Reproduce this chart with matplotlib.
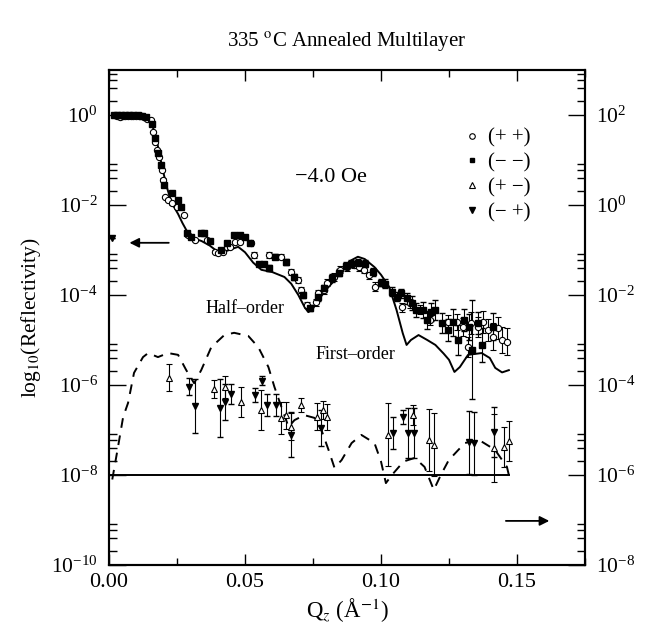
import numpy as np
import matplotlib
matplotlib.use('Agg')
import matplotlib.pyplot as plt
from matplotlib.lines import Line2D
from matplotlib.ticker import FixedLocator, NullFormatter, LogFormatterSciNotation, MultipleLocator

plt.rcParams['font.family'] = ['Liberation Serif', 'DejaVu Serif']
plt.rcParams['mathtext.fontset'] = 'stix'

# (+ +) open circles: Q, log10(R), error in decades
pp_q = [0.003, 0.004, 0.005, 0.006, 0.007, 0.008, 0.009, 0.010, 0.011, 0.012, 0.013, 0.014,
        0.0154, 0.0162, 0.017, 0.0176, 0.0184, 0.0195, 0.020, 0.0206, 0.0217, 0.023, 0.025,
        0.0276, 0.029, 0.0316, 0.036, 0.039, 0.040, 0.042, 0.0445, 0.0463, 0.048, 0.0522,
        0.0533, 0.0588, 0.0632, 0.067, 0.0695, 0.0706, 0.0728, 0.076, 0.077, 0.079, 0.080,
        0.0827, 0.085, 0.0875, 0.090, 0.092, 0.0938, 0.0956, 0.0978, 0.1077, 0.1107, 0.1143,
        0.118, 0.1246, 0.128, 0.130, 0.132, 0.133, 0.1357, 0.1375, 0.1393, 0.141, 0.143,
        0.1445, 0.1463]
pp_r = [-0.02, -0.05, -0.03, -0.02, -0.02, -0.02, -0.02, -0.02, -0.02, -0.03, -0.04, -0.08,
        -0.11, -0.38, -0.6, -0.78, -0.93, -1.22, -1.44, -1.82, -1.89, -1.96, -2.04,
        -2.22, -2.67, -2.78, -2.78, -3.04, -3.07, -3.04, -2.93, -2.82, -2.82, -2.84,
        -3.11, -3.11, -3.15, -3.49, -3.67, -3.89, -4.22, -4.16, -3.96, -3.89, -3.73,
        -3.6, -3.44, -3.38, -3.33, -3.38, -3.44, -3.56, -3.82, -4.27, -4.18, -4.33,
        -4.56, -4.6, -4.6, -4.71, -5.16, -4.62, -4.71, -4.6, -4.78, -4.93, -4.73,
        -5.0, -5.04]
pp_e = [0.02] * 12 + [0.03] * 22 + [0.06] * 7 + [0.08] * 11 + [0.1] * 5 + \
       [0.15, 0.18, 0.2, 0.22, 0.25, 0.22, 0.25, 0.25, 0.3, 0.25, 0.28, 0.3]

# (- -) filled squares
mm_q = [0.002, 0.003, 0.0045, 0.006, 0.0075, 0.009, 0.0105, 0.012, 0.0135,
        0.0158, 0.0168, 0.018, 0.019, 0.0203, 0.023, 0.0254, 0.0265, 0.0285, 0.030,
        0.034, 0.035, 0.037, 0.041, 0.0435, 0.046, 0.048, 0.050, 0.052, 0.055, 0.057,
        0.059, 0.061, 0.065, 0.068, 0.0715, 0.074, 0.077, 0.079, 0.082, 0.0845, 0.087,
        0.089, 0.0915, 0.094, 0.097, 0.100, 0.1015, 0.104, 0.1057, 0.1075, 0.1095, 0.1115,
        0.113, 0.1155, 0.117, 0.1185, 0.120, 0.1225, 0.1246, 0.1265, 0.1283, 0.1305,
        0.1323, 0.1335, 0.1357, 0.137, 0.141]
mm_r = [0.0, -0.01, 0.0, 0.0, 0.0, -0.01, -0.01, -0.02, -0.05,
        -0.2, -0.5, -0.85, -1.1, -1.55, -1.73, -1.89, -2.04, -2.62, -2.7,
        -2.62, -2.62, -2.8, -3.0, -2.84, -2.67, -2.67, -2.7, -2.84, -3.3, -3.3,
        -3.4, -3.15, -3.27, -3.6, -4.0, -4.29, -4.05, -3.85, -3.62, -3.5, -3.35,
        -3.3, -3.29, -3.3, -3.49, -3.73, -3.75, -3.93, -4.04, -3.96, -4.07, -4.18,
        -4.33, -4.33, -4.56, -4.38, -4.33, -4.62, -4.78, -4.6, -5.0, -4.56,
        -4.71, -5.22, -4.62, -5.11, -4.71]
mm_e = [0.02] * 9 + [0.03] * 21 + [0.06] * 6 + [0.08] * 10 + [0.1] * 4 + \
       [0.12, 0.15, 0.15, 0.18, 0.2, 0.2, 0.22, 0.22, 0.25, 0.3, 0.33, 0.25,
        0.28, 1.1, 0.25, 0.37, 0.3]

# (+ -) open triangles, right axis units
pm_q = [0.0221, 0.0387, 0.0427, 0.0486, 0.056, 0.0634, 0.0652, 0.067, 0.0707, 0.0763,
        0.0785, 0.0803, 0.1024, 0.1116, 0.1175, 0.1194, 0.1415, 0.1452, 0.147]
pm_r = [-3.84, -4.09, -4.04, -4.38, -4.56, -4.73, -4.67, -4.93, -4.44, -4.71,
        -4.56, -4.71, -5.11, -4.67, -5.22, -5.33, -5.4, -5.38, -5.24]
pm_e = [0.3, 0.2, 0.25, 0.33, 0.45, 0.35, 0.3, 0.3, 0.15, 0.3,
        0.2, 0.28, 0.7, 0.22, 0.68, 0.7, 0.75, 0.45, 0.45]

# (- +) filled down triangles, right axis units
mp_q = [0.001, 0.0295, 0.0317, 0.0409, 0.0427, 0.045, 0.0538, 0.0564, 0.0582, 0.0615,
        0.067, 0.0781, 0.1043, 0.108, 0.1098, 0.112, 0.1323, 0.1341, 0.1415]
mp_r = [-0.73, -4.04, -4.47, -4.51, -4.38, -4.2, -4.22, -3.91, -4.44, -4.44,
        -5.11, -4.96, -5.07, -4.71, -5.07, -5.07, -5.27, -5.29, -5.04]
mp_e = [0.0, 0.19, 0.6, 0.65, 0.4, 0.22, 0.15, 0.1, 0.25, 0.25,
        0.5, 0.4, 0.35, 0.15, 0.55, 0.55, 0.7, 0.7, 0.55]

# non-spin-flip fit (solid)
fit_q = [0.003, 0.008, 0.012, 0.0145, 0.016, 0.0173, 0.019, 0.021, 0.023, 0.0254, 0.027,
         0.029, 0.031, 0.034, 0.037, 0.040, 0.042, 0.045, 0.0475, 0.050, 0.053, 0.056,
         0.060, 0.0645, 0.067, 0.0696, 0.072, 0.0733, 0.075, 0.077, 0.080, 0.083, 0.086,
         0.089, 0.0915, 0.094, 0.0976, 0.100, 0.103, 0.1057, 0.108, 0.1094, 0.111, 0.1138,
         0.117, 0.120, 0.123, 0.125, 0.127, 0.129, 0.132, 0.137, 0.140, 0.142, 0.1445, 0.147]
fit_r = [-0.02, -0.02, -0.04, -0.1, -0.25, -0.49, -1.0, -1.55, -1.95, -2.2, -2.4,
         -2.62, -2.74, -2.8, -2.9, -3.04, -3.05, -2.98, -2.93, -3.05, -3.28, -3.44,
         -3.49, -3.6, -3.75, -4.0, -4.28, -4.38, -4.3, -4.11, -3.87, -3.67, -3.42,
         -3.23, -3.15, -3.2, -3.38, -3.55, -3.82, -4.33, -4.85, -5.11, -5.0, -4.89,
         -5.0, -5.11, -5.3, -5.44, -5.71, -5.6, -5.33, -5.29, -5.4, -5.62, -5.72, -5.67]

# spin-flip fit (dashed)
sf_q = [0.0012, 0.0033, 0.0052, 0.007, 0.0092, 0.0125, 0.0144, 0.018, 0.0217, 0.0254,
        0.0284, 0.0313, 0.0339, 0.0376, 0.0424, 0.046, 0.0512, 0.0549, 0.0586, 0.0608,
        0.0634, 0.066, 0.0682, 0.0718, 0.0755, 0.0781, 0.0807, 0.0829, 0.0855, 0.0892,
        0.0928, 0.0976, 0.100, 0.1018, 0.104, 0.1083, 0.1124, 0.116, 0.1194, 0.122,
        0.1249, 0.1308, 0.136, 0.1419, 0.1463, 0.147]
sf_r = [-8.1, -7.38, -6.71, -6.4, -5.73, -5.38, -5.29, -5.38, -5.29, -5.33,
        -5.67, -5.96, -5.67, -5.16, -4.89, -4.84, -4.91, -5.16, -5.6, -6.04,
        -6.49, -6.93, -6.78, -6.67, -6.73, -7.0, -7.44, -7.84, -7.67, -7.29,
        -7.11, -7.29, -7.7, -8.18, -8.0, -7.7, -7.62, -7.82, -8.33, -8.0,
        -7.67, -7.29, -7.22, -7.44, -7.82, -8.0]

base_q = [0.0, 0.147]
base_r = [-8.0, -8.0]


def errs(lg, e, shift=0.0):
    r = 10.0 ** (np.array(lg) + shift)
    e = np.array(e)
    return r, [r - r * 10.0 ** (-e), r * 10.0 ** e - r]


fig = plt.figure(figsize=(6.47, 6.30), dpi=100)
ax = fig.add_axes([109 / 647, 1 - 565 / 630, 476 / 647, 495 / 630])
ax.set_yscale('log')
ax.set_xlim(0, 0.175)
ax.set_ylim(1e-10, 1e1)

ax.plot(fit_q, 10.0 ** np.array(fit_r), color='black', lw=1.4, zorder=3)
ax.plot(sf_q, 10.0 ** np.array(sf_r), color='black', lw=1.4, ls=(0, (5, 4)), zorder=3)
ax.plot(base_q, 10.0 ** np.array(base_r), color='black', lw=1.4, zorder=3)

r, e = errs(pp_r, pp_e)
ax.errorbar(pp_q, r, yerr=e, fmt='o', mfc='white', mec='black', mew=0.8, ms=4.5,
            ecolor='black', elinewidth=0.8, capsize=2, zorder=4)
r, e = errs(mm_r, mm_e)
ax.errorbar(mm_q, r, yerr=e, fmt='s', color='black', ms=3.8,
            ecolor='black', elinewidth=0.8, capsize=2, zorder=4)

ax2 = ax.twinx()
ax2.set_yscale('log')
ax2.set_ylim(1e-8, 1e3)
r, e = errs(pm_r, pm_e)
ax2.errorbar(pm_q, r, yerr=e, fmt='^', mfc='white', mec='black', mew=0.8, ms=4.5,
             ecolor='black', elinewidth=0.8, capsize=2, zorder=4)
r, e = errs(mp_r, mp_e)
ax2.errorbar(mp_q, r, yerr=e, fmt='v', color='black', ms=4.5,
             ecolor='black', elinewidth=0.8, capsize=2, zorder=4)

# ticks
ax.xaxis.set_major_locator(MultipleLocator(0.05))
ax.xaxis.set_minor_locator(MultipleLocator(0.025))
ax.xaxis.set_major_formatter(matplotlib.ticker.FormatStrFormatter('%.2f'))
ax.tick_params(axis='x', which='both', direction='in', top=True, labelsize=16, pad=6)
ax.tick_params(axis='x', which='major', length=8, width=1)
ax.tick_params(axis='x', which='minor', length=5, width=1)

for a, lo, hi in [(ax, -10, 1), (ax2, -8, 3)]:
    a.yaxis.set_major_locator(FixedLocator([10.0 ** k for k in range(lo, hi, 2)]))
    a.yaxis.set_minor_locator(FixedLocator([s * 10.0 ** k for k in range(lo, hi, 2)
                                            for s in (2, 4, 6, 8)]))
    a.yaxis.set_major_formatter(LogFormatterSciNotation())
    a.yaxis.set_minor_formatter(NullFormatter())
    a.tick_params(axis='y', which='both', direction='in', labelsize=15.5, pad=8)
    a.tick_params(axis='y', which='major', length=12, width=1)
    a.tick_params(axis='y', which='minor', length=6, width=1)
ax.tick_params(axis='y', right=False)

for a in (ax, ax2):
    for s in a.spines.values():
        s.set_linewidth(1.5)

ax.set_xlabel(r'Q$_z$ (Å$^{-1}$)', fontsize=16.5, labelpad=3)
ax.set_ylabel(r'log$_{10}$(Reflectivity)', fontsize=15.5, labelpad=6)
fig.text(347 / 647, 1 - 42 / 630, r'335 $^{\rm o}$C Annealed Multilayer',
         ha='center', va='center', fontsize=15)

ax.text(0.0816, 10 ** -1.38, '\u22124.0 Oe', fontsize=16, ha='center', va='center')
ax.text(0.050, 10 ** -4.29, 'Half\u2013order', fontsize=13, ha='center', va='center')
ax.text(0.0906, 10 ** -5.33, 'First\u2013order', fontsize=13, ha='center', va='center')

ax.annotate('', xy=(0.0065, 10 ** -2.84), xytext=(0.023, 10 ** -2.84),
            arrowprops=dict(arrowstyle='-|>', color='black', lw=1.3, mutation_scale=14))
ax.annotate('', xy=(0.1629, 10 ** -9.02), xytext=(0.1449, 10 ** -9.02),
            arrowprops=dict(arrowstyle='-|>', color='black', lw=1.3, mutation_scale=14))

handles = [
    Line2D([], [], ls='none', marker='o', mfc='white', mec='black', mew=0.8, ms=4),
    Line2D([], [], ls='none', marker='s', color='black', ms=3.5),
    Line2D([], [], ls='none', marker='^', mfc='white', mec='black', mew=0.8, ms=4),
    Line2D([], [], ls='none', marker='v', color='black', ms=4),
]
labels = ['(+ +)', '(\u2212 \u2212)', '(+ \u2212)', '(\u2212 +)']
ax2.legend(handles, labels, loc='upper left', bbox_to_anchor=(0.727, 0.899), frameon=False,
           fontsize=15, handlelength=0.8, handletextpad=0.4, labelspacing=0.25,
           borderaxespad=0)

fig.savefig('out.png', dpi=100)
